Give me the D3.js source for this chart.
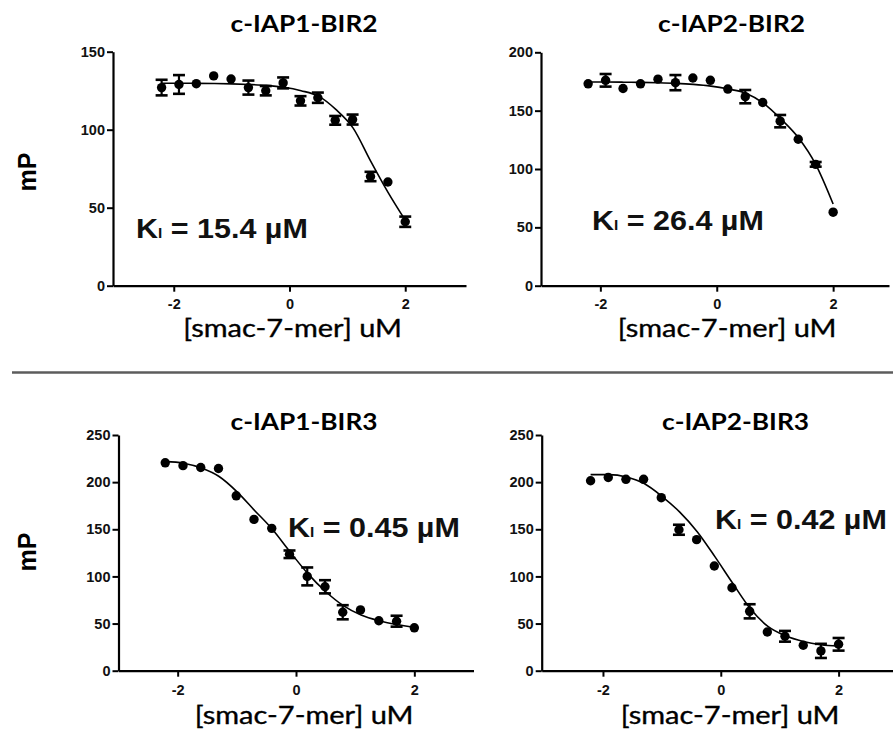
<!DOCTYPE html>
<html><head><meta charset="utf-8">
<script src="https://cdn.jsdelivr.net/npm/d3@7"></script>
<style>body{margin:0;background:#fff}svg{display:block}</style>
</head><body>
<svg id="chart" width="893" height="732"></svg>
<script>
// ---------------- data ----------------
const titles = ["c-IAP1-BIR2", "c-IAP2-BIR2", "c-IAP1-BIR3", "c-IAP2-BIR3"];
const kiValues = ["15.4", "26.4", "0.45", "0.42"];
const xLabel = "[smac-7-mer] uM";
const yLabel = "mP";
const xTicks = [-2, 0, 2];
const yTicksBIR2a = [0, 50, 100, 150];
const yTicksBIR2b = [0, 50, 100, 150, 200];
const yTicksBIR3 = [0, 50, 100, 150, 200, 250];

// log10 concentration (uM) of the data points
const logConc = [-2.21, -1.91, -1.61, -1.31, -1.01, -0.71, -0.41, -0.11, 0.19, 0.49, 0.79, 1.09, 1.40, 1.70, 2.00];
// log10 concentration of the points
const fitConc = [-2.21, -1.9, -1.6, -1.3, -1.0, -0.7, -0.4, -0.1, 0.2, 0.5, 0.8, 1.1, 1.4, 1.7, 2.0];

// c-IAP1-BIR2
const meanIAP1BIR2 = [127, 129, 129.5, 134.5, 132.5, 127, 125, 130, 118.5, 120.5, 106, 106.5, 70, 66.5, 41];
const errIAP1BIR2  = [5, 6, 0, 0, 0, 4.5, 3, 3.5, 3, 3.3, 2.8, 3.2, 3, 0, 3.3];
const fitIAP1BIR2  = [129.8, 129.8, 129.7, 129.6, 129.4, 129.0, 128.4, 127.2, 125.0, 121.5, 113, 101, 80, 60, 42];

// c-IAP2-BIR2
const meanIAP2BIR2 = [173, 176, 169, 173, 177, 174, 178, 176, 168.5, 162, 157, 141, 125.5, 104, 63];
const errIAP2BIR2  = [0, 5.4, 0, 0, 0, 6.5, 0, 0, 0, 5.7, 0, 5.3, 0, 2, 0];
const fitIAP2BIR2  = [174.5, 174.5, 174.4, 174.2, 173.9, 173.4, 172.5, 171, 168.5, 165, 156.5, 143, 127, 104, 70];

// c-IAP1-BIR3
const meanIAP1BIR3 = [220.5, 217.5, 215.5, 214.5, 185.5, 160.5, 151, 123.5, 100, 89, 62, 64.5, 53, 52.5, 45.5];
const errIAP1BIR3  = [0, 0, 0, 0, 0, 0, 0, 4, 9.5, 7, 7.5, 0, 0, 5.8, 0];
const fitIAP1BIR3  = [222, 220, 215, 206, 190, 170, 150, 126, 103, 84, 69, 59, 53, 49, 46];

// c-IAP2-BIR3
const meanIAP2BIR3 = [201.5, 205, 203, 203, 183.5, 149.5, 139, 111, 88, 63, 41, 36.5, 27, 21, 28];
const errIAP2BIR3  = [0, 0, 0, 0, 0, 5.3, 0, 0, 0, 7.5, 0, 5.7, 0, 7.5, 6.7];
const fitIAP2BIR3  = [208, 208, 205.5, 198.5, 185, 168.5, 147.5, 121, 93, 66, 47, 37, 31, 27.5, 26];

// ---------------- layout ----------------
const panels = [
  {title: titles[0], ki: kiValues[0], mean: meanIAP1BIR2, err: errIAP1BIR2, fit: fitIAP1BIR2, yTicks: yTicksBIR2a,
   xDom: [-3.05, 3.05], xR: [113, 466], yR: [285.7, 51.7],
   titleX: 293.5, titleY: 32, xlabX: 277.5, xlabY: 337, kiX: 136, kiY: 238, xPad: 7},
  {title: titles[1], ki: kiValues[1], mean: meanIAP2BIR2, err: errIAP2BIR2, fit: fitIAP2BIR2, yTicks: yTicksBIR2b,
   xDom: [-3.02, 2.96], xR: [541, 889], yR: [285.7, 52.3],
   titleX: 721, titleY: 32, xlabX: 712, xlabY: 337, kiX: 592, kiY: 230, xPad: 7},
  {title: titles[2], ki: kiValues[2], mean: meanIAP1BIR3, err: errIAP1BIR3, fit: fitIAP1BIR3, yTicks: yTicksBIR3,
   xDom: [-3, 3], xR: [118.5, 473.5], yR: [670.7, 435],
   titleX: 293.5, titleY: 430, xlabX: 289, xlabY: 724, kiX: 288, kiY: 537, xPad: 8},
  {title: titles[3], ki: kiValues[3], mean: meanIAP2BIR3, err: errIAP2BIR3, fit: fitIAP2BIR3, yTicks: yTicksBIR3,
   xDom: [-3.04, 3.0], xR: [541.7, 897.5], yR: [670.7, 435],
   titleX: 725, titleY: 430, xlabX: 715, xlabY: 724, kiX: 715, kiY: 529, xPad: 8}
];

const svg = d3.select("#chart");
svg.append("rect").attr("width", 893).attr("height", 732).attr("fill", "#fff");

function fitWidth(sel, target) {
  const node = sel.node();
  const bb = node.getBBox();
  if (!bb.width) return;
  const k = target / bb.width;
  const x0 = bb.x;
  sel.attr("transform", `translate(${x0},0) scale(${k},1) translate(${-x0},0)`);
}

// separator
svg.append("line").attr("x1", 12).attr("x2", 893).attr("y1", 372.5).attr("y2", 372.5)
  .attr("stroke", "#5c5c5c").attr("stroke-width", 2.5);

// y labels
[172, 552].forEach(cy => {
  svg.append("text").text(yLabel)
    .attr("transform", `translate(36,${cy}) rotate(-90)`)
    .attr("text-anchor", "middle")
    .attr("font-family", "'Liberation Sans', Arial, sans-serif")
    .attr("font-weight", "bold").attr("font-size", 25).attr("fill", "#000");
});

panels.forEach(p => {
  const x = d3.scaleLinear().domain(p.xDom).range(p.xR);
  const yMax = p.yTicks[p.yTicks.length - 1];
  const y = d3.scaleLinear().domain([0, yMax]).range(p.yR);
  const g = svg.append("g");

  // axes
  const xAxis = g.append("g").attr("transform", `translate(0,${p.yR[0]})`)
    .call(d3.axisBottom(x).tickValues(xTicks).tickFormat(d3.format("d")).tickSize(6).tickSizeOuter(0).tickPadding(p.xPad));
  const yAxis = g.append("g").attr("transform", `translate(${p.xR[0]},0)`)
    .call(d3.axisLeft(y).tickValues(p.yTicks).tickSize(6).tickSizeOuter(0).tickPadding(2));
  [xAxis, yAxis].forEach(a => {
    a.select(".domain").attr("stroke", "#000").attr("stroke-width", 2.2);
    a.selectAll(".tick line").attr("stroke", "#000").attr("stroke-width", 2);
    a.selectAll(".tick text").attr("fill", "#111")
      .attr("font-family", "'Liberation Sans', Arial, sans-serif")
      .attr("font-weight", "bold").attr("font-size", 14.5);
  });
  xAxis.selectAll(".tick text").text(d => d < 0 ? "-" + Math.abs(d) : d);

  // fitted curve
  const line = d3.line().x((d, i) => x(fitConc[i])).y(d => y(d)).curve(d3.curveMonotoneX);
  g.append("path").datum(p.fit).attr("d", line)
    .attr("fill", "none").attr("stroke", "#000").attr("stroke-width", 1.6);

  // error bars
  const pts = logConc.map((c, i) => ({c, m: p.mean[i], e: p.err[i]}));
  const eb = g.append("g").attr("stroke", "#000");
  pts.filter(d => d.e > 0).forEach(d => {
    eb.append("line").attr("x1", x(d.c)).attr("x2", x(d.c))
      .attr("y1", y(d.m - d.e)).attr("y2", y(d.m + d.e)).attr("stroke-width", 2.2);
    [d.m - d.e, d.m + d.e].forEach(v => {
      eb.append("line").attr("x1", x(d.c) - 6).attr("x2", x(d.c) + 6)
        .attr("y1", y(v)).attr("y2", y(v)).attr("stroke-width", 2.6);
    });
  });

  // points
  g.append("g").selectAll("circle").data(pts).join("circle")
    .attr("cx", d => x(d.c)).attr("cy", d => y(d.m)).attr("r", 4.7).attr("fill", "#000");

  // title
  const t = svg.append("text").text(p.title)
    .attr("x", p.titleX).attr("y", p.titleY).attr("text-anchor", "middle")
    .attr("font-family", "Lato, 'Open Sans', sans-serif").attr("font-weight", "bold")
    .attr("font-size", 22.5).attr("fill", "#000");
  fitWidth(t, 147);

  // x label
  const xl = svg.append("text").text(xLabel)
    .attr("x", p.xlabX).attr("y", p.xlabY).attr("text-anchor", "middle")
    .attr("font-family", "Lato, 'Open Sans', sans-serif")
    .attr("font-size", 25).attr("fill", "#000")
    .attr("stroke", "#000").attr("stroke-width", 0.35);
  fitWidth(xl, 219);

  // Ki annotation
  const kt = svg.append("text").attr("x", p.kiX).attr("y", p.kiY)
    .attr("font-family", "'Liberation Sans', Arial, sans-serif").attr("font-weight", "bold")
    .attr("font-size", 28).attr("fill", "#111");
  kt.append("tspan").text("K");
  kt.append("tspan").attr("font-size", 14).text("I");
  kt.append("tspan").text(" = " + p.ki + " µM");
  fitWidth(kt, 172);
});
</script>
</body></html>
